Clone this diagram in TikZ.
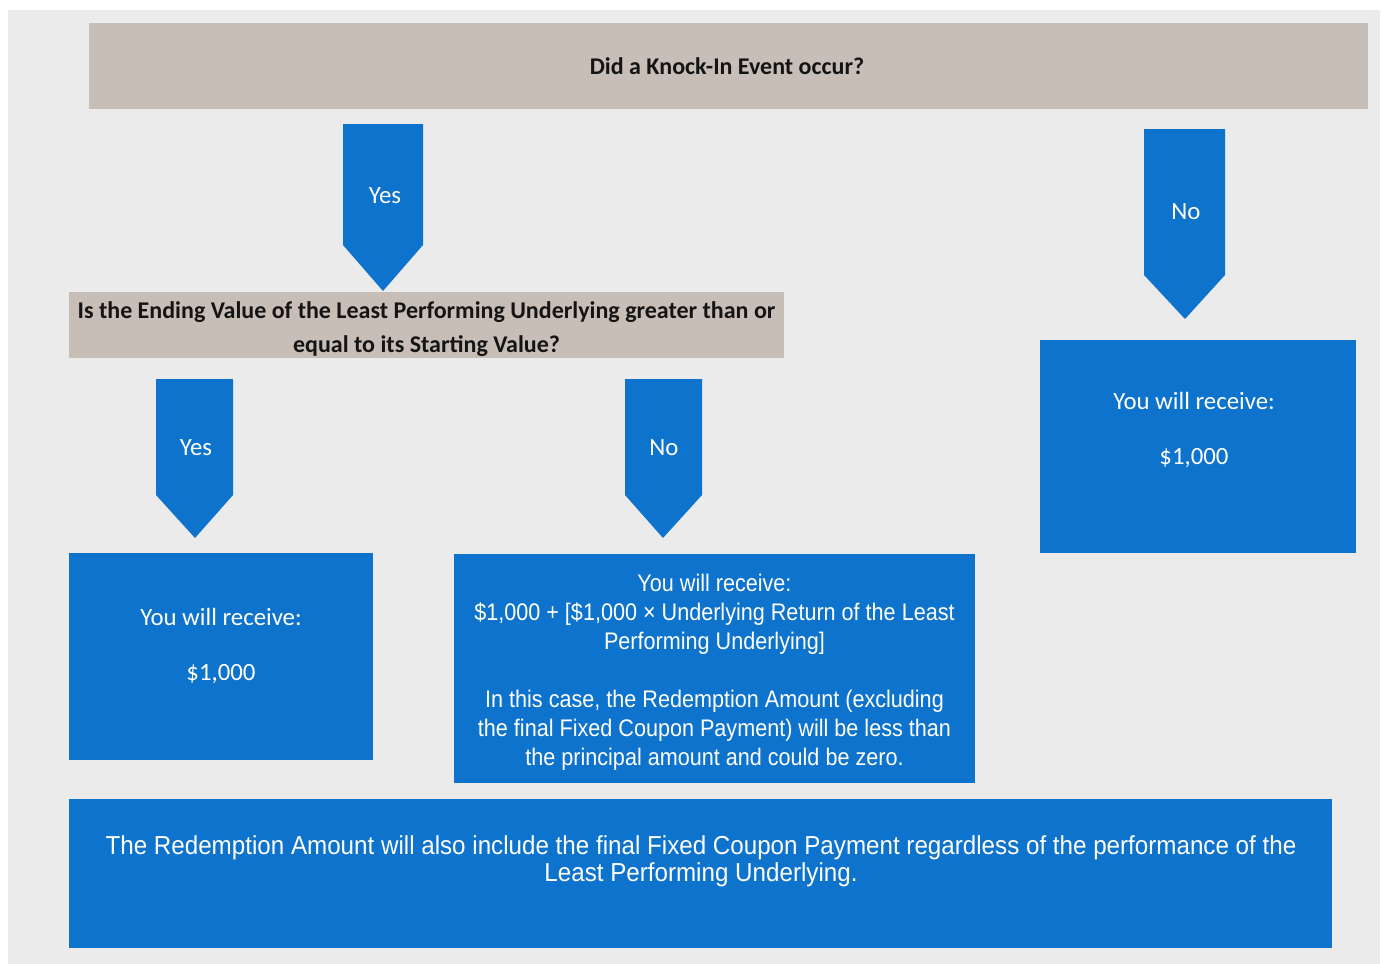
\documentclass[tikz,border=0pt]{standalone}
\usepackage{fontspec}
\setmainfont{Carlito}
\newfontfamily\arialish[FakeStretch=0.9]{Liberation Sans}
\newfontfamily\couponfont[FakeStretch=0.93]{Liberation Sans}
\definecolor{payblue}{RGB}{14,115,204}
\definecolor{tanbox}{RGB}{199,191,183}
\definecolor{panelgray}{RGB}{235,235,235}
\definecolor{qtext}{RGB}{20,20,20}

\begin{document}
\begin{tikzpicture}[x=1pt, y=-1pt,
  every node/.style = {align=center, inner sep=0pt},
  qbox/.style = {shape=rectangle, fill=tanbox},
  qtextstyle/.style = {text=qtext, font=\fontsize{24}{34}\selectfont\bfseries},
  paybox/.style = {shape=rectangle, fill=payblue},
  flowlabel/.style = {text=white, font=\fontsize{24.8}{28}\selectfont},
  paytext/.style = {text=white, font=\arialish\fontsize{24}{29}\selectfont}]
  \useasboundingbox (0,0) rectangle (1382,964);
  \fill[white] (0,0) rectangle (1382,964);
  \fill[panelgray] (8,10) rectangle (1380,964);

  % questions
  \node[qbox, minimum width=1279pt, minimum height=86pt] (knockin) at (728.5,66) {};
  \node[qtextstyle] (knockinTxt) at (727,66) {Did a Knock-In Event occur?};
  \node[qbox, minimum width=715pt, minimum height=66pt] (ending) at (426.5,325) {};
  \node[qtextstyle] (endingTxt) at (426.5,329)
    {Is the Ending Value of the Least Performing Underlying greater than or\\
     equal to its Starting Value?};

  % yes / no arrows
  \fill[payblue] (343,124) -- (423,124) -- (423,245) -- (383,291) -- (343,245) -- cycle;
  \node[flowlabel] (yesKnock) at (385,196) {Yes};
  \fill[payblue] (1144,129) -- (1225,129) -- (1225,275) -- (1185,319) -- (1144,275) -- cycle;
  \node[flowlabel] (noKnock) at (1186,212) {No};
  \fill[payblue] (156,379) -- (233,379) -- (233,495) -- (195,538) -- (156,495) -- cycle;
  \node[flowlabel] (yesEnding) at (196,448) {Yes};
  \fill[payblue] (625,379) -- (702,379) -- (702,495) -- (663,538) -- (625,495) -- cycle;
  \node[flowlabel] (noEnding) at (664,448) {No};

  % payments
  \node[paybox, minimum width=316pt, minimum height=213pt] (payNoKnock) at (1198,446.5) {};
  \node[flowlabel] (payNoKnockTxt) at (1194,430) {You will receive:\\[27pt] \$1,000};
  \node[paybox, minimum width=304pt, minimum height=207pt] (payAbove) at (221,656.5) {};
  \node[flowlabel] (payAboveTxt) at (221,645.5) {You will receive:\\[27pt] \$1,000};
  \node[paybox, minimum width=521pt, minimum height=229pt] (payBelow) at (714.5,668.5) {};
  \node[paytext] (payBelowTxt) at (714.5,672.5)
    {You will receive:\\
     \$1,000 + [\$1,000 × Underlying Return of the Least\\
     Performing Underlying]\\[29pt]
     In this case, the Redemption Amount (excluding\\
     the final Fixed Coupon Payment) will be less than\\
     the principal amount and could be zero.};

  % coupon note
  \node[paybox, minimum width=1263pt, minimum height=149pt] (coupon) at (700.5,873.5) {};
  \node[paytext, font=\couponfont\fontsize{26}{27}\selectfont] (couponTxt) at (701,861)
    {The Redemption Amount will also include the final Fixed Coupon Payment regardless of the performance of the\\
     Least Performing Underlying.};
\end{tikzpicture}
\end{document}
